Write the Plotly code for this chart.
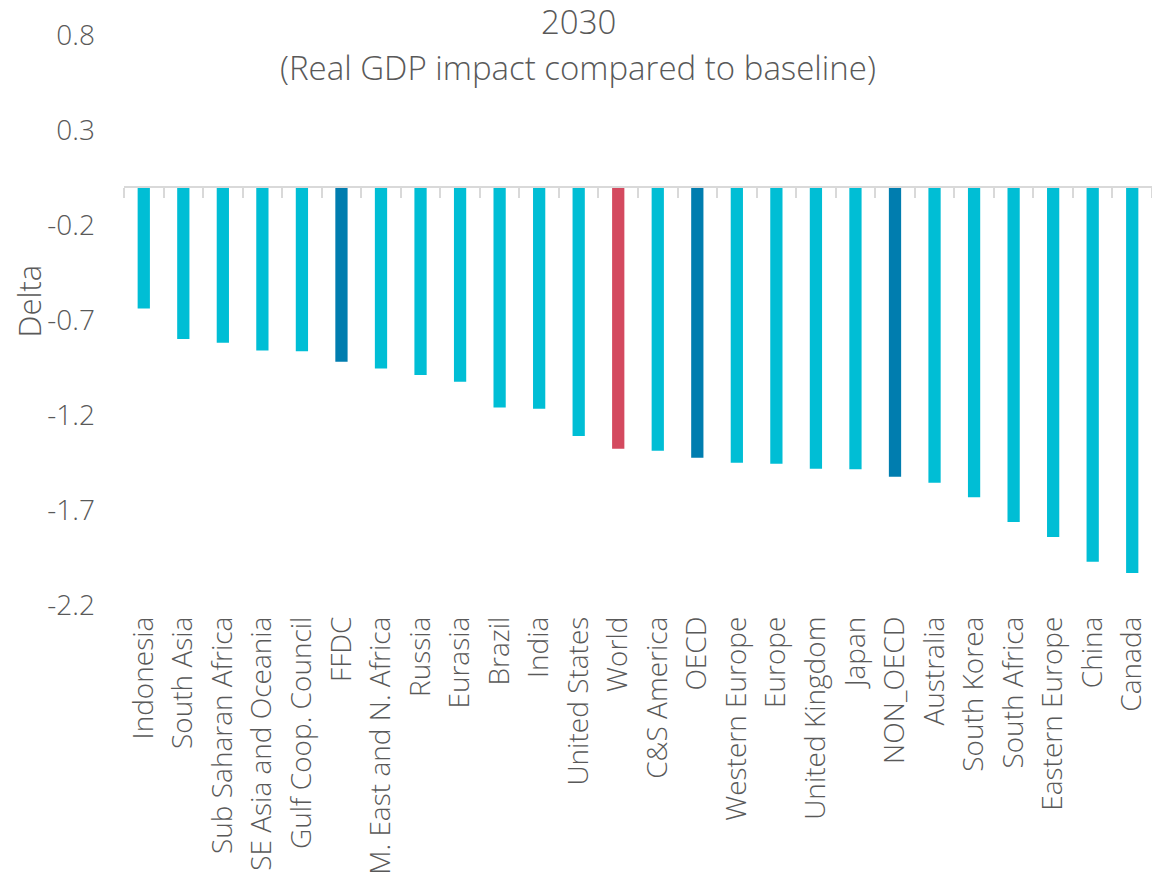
import plotly.graph_objects as go

categories = ["Indonesia", "South Asia", "Sub Saharan Africa", "SE Asia and Oceania",
              "Gulf Coop. Council", "FFDC", "M. East and N. Africa", "Russia", "Eurasia",
              "Brazil", "India", "United States", "World", "C&S America", "OECD",
              "Western Europe", "Europe", "United Kingdom", "Japan", "NON_OECD",
              "Australia", "South Korea", "South Africa", "Eastern Europe", "China", "Canada"]
values = [-0.64, -0.80, -0.82, -0.86, -0.865, -0.92, -0.955, -0.99, -1.025,
          -1.16, -1.167, -1.31, -1.377, -1.388, -1.425, -1.451, -1.456, -1.483,
          -1.485, -1.525, -1.556, -1.633, -1.763, -1.842, -1.972, -2.032]
groups = ["region"] * 5 + ["aggregate"] + ["region"] * 6 + ["world"] + ["region"] + ["aggregate"] \
         + ["region"] * 4 + ["aggregate"] + ["region"] * 6
y_ticks = [0.8, 0.3, -0.2, -0.7, -1.2, -1.7, -2.2]
title_line1 = "2030"
title_line2 = "(Real GDP impact compared to baseline)"
y_title = "Delta"

palette = {"region": "#00BED5", "aggregate": "#007DAF", "world": "#D44A5F"}
colors = [palette[g] for g in groups]

FONT = "Open Sans"
TXT = "#595959"

# page body margin is removed (post_script), so figure pixels = page pixels
W, H = 1152, 883
ML, MR, MT, MB = 124, 0, 35, 278
PW, PH = W - ML - MR, H - MT - MB


def px(page_x):
    return (page_x - ML) / PW


def py(page_y):
    return (H - MB - page_y) / PH


fig = go.Figure()
fig.add_trace(go.Bar(x=categories, y=values, marker=dict(color=colors, line=dict(width=0)),
                     showlegend=False, hoverinfo="x+y"))
# invisible trace to hold the zero-crossing category axis (line + tick marks)
fig.add_trace(go.Scatter(x=[0, len(categories) - 1], y=[0, 0], xaxis="x2", mode="markers",
                         marker=dict(opacity=0), showlegend=False, hoverinfo="skip"))

ymin, ymax = min(y_ticks), max(y_ticks)
fig.update_layout(
    width=W, height=H,
    margin=dict(l=ML, r=MR, t=MT, b=MB),
    paper_bgcolor="white", plot_bgcolor="white",
    font=dict(family=FONT, color=TXT, size=28, weight=300),
    bargap=0.69,
    xaxis=dict(type="category", tickangle=-90, showgrid=False, showline=False,
               zeroline=False, ticks="", ticklabelstandoff=5,
               tickfont=dict(size=28, color=TXT, family=FONT, weight=300)),
    xaxis2=dict(overlaying="x", anchor="free", position=(0 - ymin) / (ymax - ymin),
                range=[-0.5, len(categories) - 0.5], tickmode="linear", tick0=-0.5, dtick=1,
                ticks="outside", ticklen=10, tickwidth=2, tickcolor="#D9D9D9",
                showline=True, linecolor="#D9D9D9", linewidth=2, showticklabels=False,
                showgrid=False, zeroline=False, side="bottom"),
    yaxis=dict(range=[ymin, ymax], tickvals=y_ticks, ticktext=[f"{v:g}" for v in y_ticks],
               showgrid=False, zeroline=False, showline=False, ticks="",
               ticklabelstandoff=28,
               tickfont=dict(size=28, color=TXT, family=FONT, weight=300)),
    annotations=[
        dict(text=title_line1, xref="paper", yref="paper", x=px(578), y=py(21.5),
             showarrow=False, xanchor="center", yanchor="middle",
             font=dict(size=33, color=TXT, family=FONT, weight=300)),
        dict(text=title_line2, xref="paper", yref="paper", x=px(578), y=py(68),
             showarrow=False, xanchor="center", yanchor="middle",
             font=dict(size=33, color=TXT, family=FONT, weight=300)),
        dict(text=y_title, xref="paper", yref="paper", x=px(28.5), y=py(301),
             showarrow=False, xanchor="center", yanchor="middle", textangle=-90,
             font=dict(size=31, color=TXT, family=FONT, weight=300)),
    ],
)

fig.write_html("out.html", config={"displayModeBar": False},
               post_script="document.body.style.margin='0';document.body.style.overflow='hidden';")
